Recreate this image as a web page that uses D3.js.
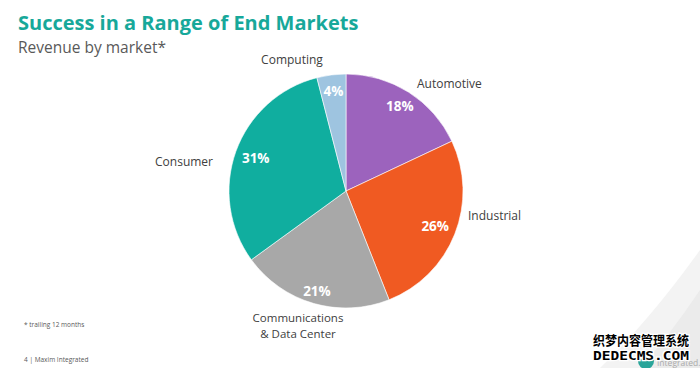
<!DOCTYPE html>
<html><head><meta charset="utf-8">
<script src="https://cdn.jsdelivr.net/npm/d3@7/dist/d3.min.js"></script>
<style>body{margin:0;background:#fff;} svg{display:block;}</style>
</head><body>
<svg id="c" width="700" height="368"></svg>
<script>
const categories = ["Automotive","Industrial","Communications & Data Center","Consumer","Computing"];
const values = [18, 26, 21, 31, 4];
const colors = ["#9C63BD","#F05A22","#A8A8A8","#10AE9F","#9EC4E0"];
const pctLabels = ["18%","26%","21%","31%","4%"];

const svg = d3.select("#c");
const font = "'Open Sans', sans-serif";

// background swoosh
svg.append("path").attr("d","M700,250 L700,368 L600,368 Q650,320 700,250 Z").attr("fill","#f3f3f3");
svg.append("path").attr("d","M700,290 L700,368 L640,368 Q670,335 700,290 Z").attr("fill","#ebebeb");

svg.append("text").attr("x",18).attr("y",30).attr("font-family",font).attr("font-weight","bold")
  .attr("font-size",20).attr("fill","#17A89A").text("Success in a Range of End Markets");
svg.append("text").attr("x",18).attr("y",53).attr("font-family",font)
  .attr("font-size",15.5).attr("fill","#595959").text("Revenue by market*");

const cx = 346, cy = 191, r = 117;
const pie = d3.pie().sort(null).value(d=>d)(values);
const arc = d3.arc().innerRadius(0).outerRadius(r);
const g = svg.append("g").attr("transform",`translate(${cx},${cy})`);
g.selectAll("path").data(pie).join("path").attr("d",arc)
  .attr("fill",(d,i)=>colors[i]).attr("stroke","#fff").attr("stroke-width",0.6);

const pctR = [0.86,0.82,0.89,0.82,0.86];
g.selectAll("text.p").data(pie).join("text").attr("class","p")
  .attr("transform",(d,i)=>{const a=d3.arc().innerRadius(r*pctR[i]).outerRadius(r*pctR[i]);const c=a.centroid(d);return `translate(${c})`;})
  .attr("text-anchor","middle").attr("dy","0.35em").attr("font-family",font).attr("font-weight","bold")
  .attr("font-size",13.5).attr("fill","#fff").text((d,i)=>pctLabels[i]);

// outside labels
const lab = [
  {t:["Automotive"], x:417, y:88, a:"start", fs:12},
  {t:["Industrial"], x:468, y:220, a:"start", fs:12},
  {t:["Communications","& Data Center"], x:298, y:322, a:"middle", fs:11.5},
  {t:["Consumer"], x:213, y:166, a:"end", fs:12},
  {t:["Computing"], x:292, y:64, a:"middle", fs:12}
];
lab.forEach((l,i)=>{
  l.t.forEach((s,j)=>svg.append("text").attr("x",l.x).attr("y",l.y + j*15.8).attr("text-anchor",l.a)
    .attr("font-family",font).attr("font-size",l.fs).attr("fill","#404040").text(s));
});

svg.append("text").attr("x",24).attr("y",327).attr("font-family",font).attr("font-size",6.5).attr("fill","#595959").text("* trailing 12 months");
svg.append("text").attr("x",24).attr("y",362).attr("font-family",font).attr("font-size",6.5).attr("fill","#595959").text("4  |  Maxim Integrated");

// watermark
svg.append("circle").attr("cx",646).attr("cy",361).attr("r",8).attr("fill","#2AA59A");
svg.append("text").attr("x",657).attr("y",366).attr("font-family",font).attr("font-size",8.5).attr("fill","#aaa").text("Integrated.");
[["织梦内容管理系统",345,"'Noto Sans CJK SC'",13],["DEDECMS.COM",360,"'DejaVu Sans Mono', monospace",12.5]].forEach(([s,y,f,fs])=>{
  svg.append("text").attr("x",593).attr("y",y).attr("font-family",f).attr("font-weight","bold").attr("font-size",fs)
    .attr("fill","#000").attr("stroke","#fff").attr("stroke-width",2.5).attr("paint-order","stroke")
    .attr("textLength",96).attr("lengthAdjust","spacingAndGlyphs").text(s);
});
</script>
</body></html>
